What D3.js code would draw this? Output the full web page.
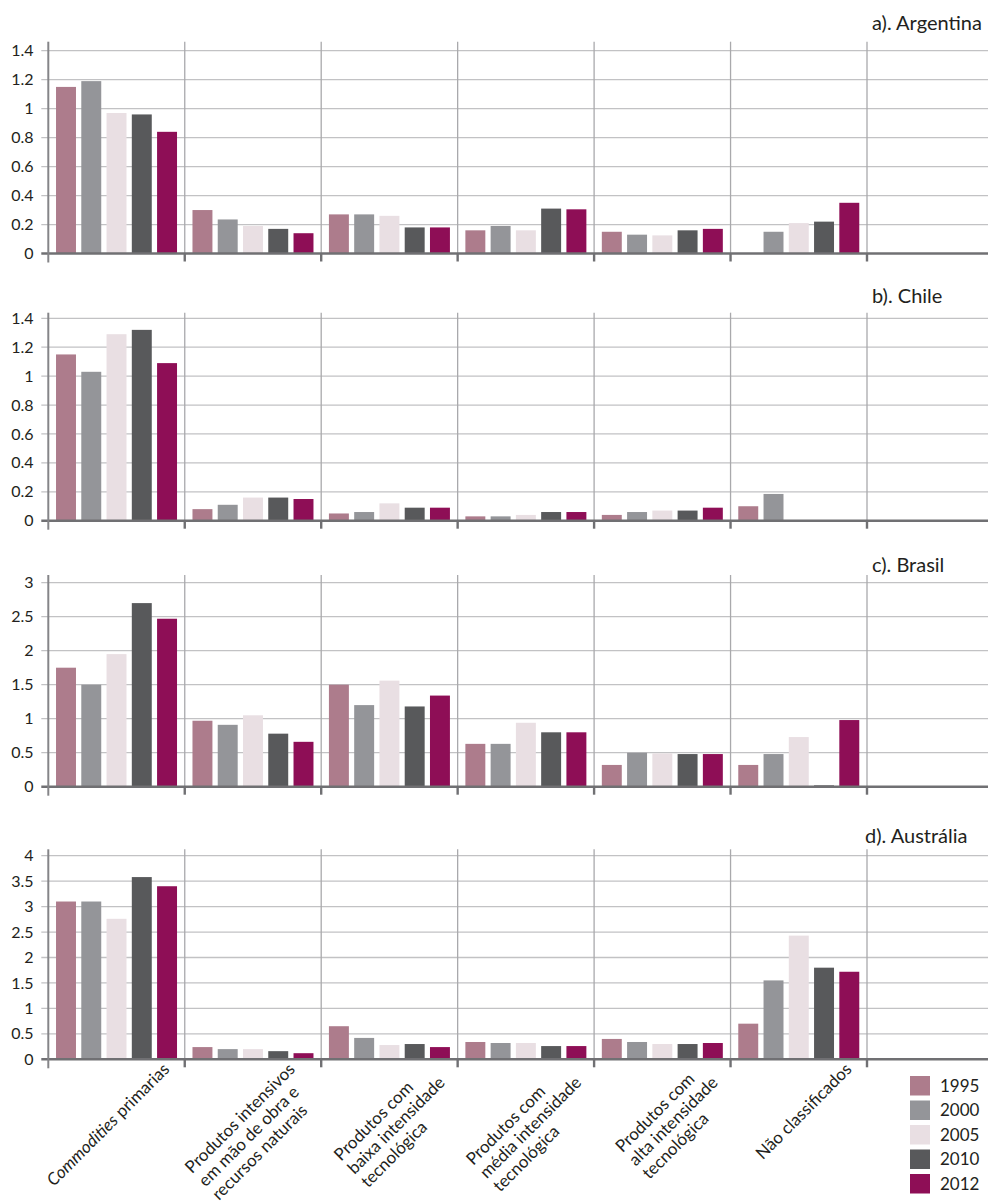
<!DOCTYPE html>
<html>
<head>
<meta charset="utf-8">
<script src="https://cdn.jsdelivr.net/npm/d3@7"></script>
<style>
  body { margin: 0; background: #fff; }
  svg { display: block; }
  text { font-family: Lato, "Open Sans", sans-serif; fill: #231f20; }
</style>
</head>
<body>
<svg id="chart" width="989" height="1201"></svg>
<script>
// Export categories (x axis), one empty slot at the end
const categories = [
  "Commodities primarias",
  "Produtos intensivos\nem mão de obra e\nrecursos naturais",
  "Produtos com\nbaixa intensidade\ntecnológica",
  "Produtos com\nmédia intensidade\ntecnológica",
  "Produtos com\nalta intensidade\ntecnológica",
  "Não classificados",
  ""
];
const italicTerm = "Commodities";

const years = ["1995", "2000", "2005", "2010", "2012"];
const yearColors = ["#ad7c8c", "#949599", "#e9dfe3", "#58595b", "#8e0e56"];

// One row per category, one value per year (null = no bar)
const argentina = [
  [1.15, 1.19, 0.97, 0.96, 0.84],
  [0.30, 0.235, 0.19, 0.17, 0.14],
  [0.27, 0.27, 0.26, 0.18, 0.18],
  [0.16, 0.19, 0.16, 0.31, 0.305],
  [0.15, 0.13, 0.125, 0.16, 0.17],
  [null, 0.15, 0.21, 0.22, 0.35]
];
const chile = [
  [1.15, 1.03, 1.29, 1.32, 1.09],
  [0.08, 0.11, 0.16, 0.16, 0.15],
  [0.05, 0.06, 0.12, 0.09, 0.09],
  [0.03, 0.03, 0.04, 0.06, 0.06],
  [0.04, 0.06, 0.07, 0.07, 0.09],
  [0.10, 0.185, null, null, null]
];
const brasil = [
  [1.75, 1.50, 1.95, 2.70, 2.47],
  [0.97, 0.91, 1.05, 0.78, 0.66],
  [1.50, 1.20, 1.56, 1.18, 1.34],
  [0.63, 0.63, 0.94, 0.80, 0.80],
  [0.32, 0.50, 0.49, 0.48, 0.48],
  [0.32, 0.48, 0.73, 0.02, 0.98]
];
const australia = [
  [3.10, 3.10, 2.76, 3.58, 3.40],
  [0.24, 0.20, 0.20, 0.16, 0.12],
  [0.65, 0.42, 0.28, 0.30, 0.24],
  [0.34, 0.32, 0.32, 0.26, 0.26],
  [0.40, 0.34, 0.30, 0.30, 0.32],
  [0.70, 1.55, 2.43, 1.80, 1.72]
];

const ticksSmall = [0, 0.2, 0.4, 0.6, 0.8, 1, 1.2, 1.4];
const ticksBrasil = [0, 0.5, 1, 1.5, 2, 2.5, 3];
const ticksAustralia = [0, 0.5, 1, 1.5, 2, 2.5, 3, 3.5, 4];

const panelTitles = ["a). Argentina", "b). Chile", "c). Brasil", "d). Austrália"];
const panelData = [argentina, chile, brasil, australia];
const panelTicks = [ticksSmall, ticksSmall, ticksBrasil, ticksAustralia];

// Layout of the four stacked panels
const layout = {
  plotTop:    [50.7, 318.3, 582.7, 855.7],
  plotBottom: [253.5, 520.7, 786.7, 1059.3],
  gridTop:    [41.7, 312.7, 575, 849.3],
  titleY:     [30, 303, 572, 843],
  titleX:     [872, 872, 872, 865]
};
const plotLeft = 48.3, catWidth = 136.45, plotRight = 988;

const svg = d3.select("#chart");

const x = d3.scaleBand()
  .domain(d3.range(categories.length))
  .range([plotLeft, plotLeft + catWidth * categories.length])
  .padding(0);
const bw = x.bandwidth();
const groupSpan = 121;
const x1 = d3.scaleBand()
  .domain(years)
  .range([(bw - groupSpan) / 2, (bw + groupSpan) / 2])
  .paddingInner(0.21)
  .paddingOuter(0);

const tickFmt = d => String(+d.toFixed(1));

panelData.forEach((rows, p) => {
  const ticks = panelTicks[p];
  const y = d3.scaleLinear()
    .domain([0, ticks[ticks.length - 1]])
    .range([layout.plotBottom[p], layout.plotTop[p]]);
  const y0 = y(0);
  const g = svg.append("g");

  // horizontal gridlines (also form the small left ticks)
  g.append("g").selectAll("line").data(ticks.filter(t => t > 0)).join("line")
    .attr("x1", plotLeft - 7).attr("x2", plotRight)
    .attr("y1", d => y(d)).attr("y2", d => y(d))
    .attr("stroke", "#c2c2c4").attr("stroke-width", 1.3);

  // vertical separators between categories
  g.append("g").selectAll("line").data(d3.range(1, categories.length)).join("line")
    .attr("x1", d => x(d)).attr("x2", d => x(d))
    .attr("y1", layout.gridTop[p]).attr("y2", y0)
    .attr("stroke", "#a9a9ac").attr("stroke-width", 1.3);

  // bars
  const cat = g.append("g").selectAll("g").data(rows).join("g")
    .attr("transform", (d, i) => `translate(${x(i)},0)`);
  cat.selectAll("rect")
    .data(d => d.map((v, j) => ({ year: years[j], v, j })).filter(e => e.v != null))
    .join("rect")
    .attr("x", e => x1(e.year))
    .attr("width", x1.bandwidth())
    .attr("y", e => y(e.v))
    .attr("height", e => y0 - y(e.v))
    .attr("fill", e => yearColors[e.j]);

  // zero axis line
  g.append("line")
    .attr("x1", plotLeft - 7).attr("x2", plotRight)
    .attr("y1", y0).attr("y2", y0)
    .attr("stroke", "#707073").attr("stroke-width", 2.6);

  // category boundary ticks below the axis
  g.append("g").selectAll("line").data(d3.range(1, categories.length)).join("line")
    .attr("x1", d => x(d)).attr("x2", d => x(d))
    .attr("y1", y0).attr("y2", y0 + 8)
    .attr("stroke", "#707073").attr("stroke-width", 2.4);

  // y axis line
  g.append("line")
    .attr("x1", plotLeft).attr("x2", plotLeft)
    .attr("y1", layout.gridTop[p]).attr("y2", y0 + 9)
    .attr("stroke", "#858588").attr("stroke-width", 2);

  // y tick labels
  const yAxis = d3.axisLeft(y).tickValues(ticks).tickFormat(tickFmt).tickSize(0).tickPadding(0);
  const ya = g.append("g").attr("transform", "translate(33.5,0)").call(yAxis);
  ya.select(".domain").remove();
  ya.selectAll("text")
    .style("font-family", "Lato, 'Open Sans', sans-serif")
    .style("font-size", "16px")
    .attr("fill", "#231f20");

  // panel title
  g.append("text")
    .attr("x", layout.titleX[p]).attr("y", layout.titleY[p])
    .style("font-size", "20px")
    .text(panelTitles[p]);
});

// rotated category labels under the last panel: lines left-aligned,
// the longest line ends at the anchor on the first line's baseline
const axisY = layout.plotBottom[3];
const lh = 19;
categories.forEach((label, i) => {
  if (!label) return;
  const lines = label.split("\n");
  const c = x(i) + bw / 2;
  const dx = lines.length > 1 ? 43 : 54;
  const g = svg.append("g")
    .attr("transform", `translate(${c + dx},${axisY + 11}) rotate(-45)`);
  const t = g.append("text").style("font-size", "17px").attr("text-anchor", "start");
  const tspans = lines.map((line, j) => {
    const row = t.append("tspan").attr("x", 0).attr("y", j * lh);
    if (line.startsWith(italicTerm)) {
      row.append("tspan").style("font-style", "italic").text(italicTerm);
      row.append("tspan").text(line.slice(italicTerm.length));
    } else {
      row.text(line);
    }
    return row;
  });
  const maxW = d3.max(tspans, s => s.node().getComputedTextLength());
  tspans.forEach(s => s.attr("x", -maxW));
});

// legend
const legend = svg.append("g").attr("transform", "translate(910,1076)");
const li = legend.selectAll("g").data(years).join("g")
  .attr("transform", (d, i) => `translate(0,${i * 24.5})`);
li.append("rect").attr("width", 20).attr("height", 19.5)
  .attr("fill", (d, i) => yearColors[i]);
li.append("text").attr("x", 30).attr("y", 15.5)
  .style("font-size", "17px").text(d => d);
</script>
</body>
</html>
